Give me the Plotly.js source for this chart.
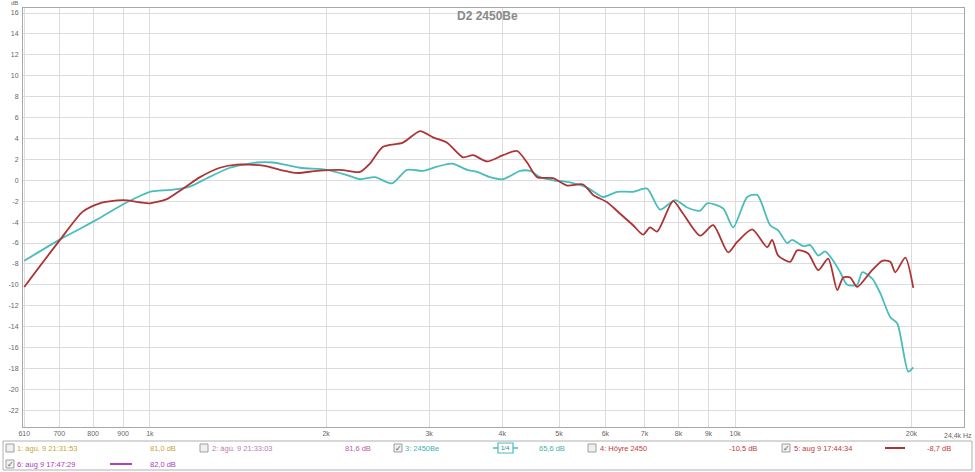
<!DOCTYPE html>
<html><head><meta charset="utf-8">
<script src="https://cdn.plot.ly/plotly-3.0.1.min.js"></script>
<style>html,body{margin:0;padding:0;background:#fff}#chart{width:975px;height:472px}</style>
</head><body><div id="chart"></div>
<script>
// ---- data ----
const freqTeal = [610,700,768,821,900,961,1000,1095,1170,1252,1370,1523,1623,1805,2007,2171,2286,2424,2592,2750,2929,3094,3283,3483,3622,3813,4012,4291,4463,4642,4886,5223,5585,5948,6284,6692,7071,7442,7896,8277,8713,8956,9539,9922,10484,10904,11476,11843,12270,12513,13067,13432,13864,14250,14706,15118,15539,16159,16482,17147,17697,18408,18922,19758,20150];
const dbTeal   = [-7.7,-5.7,-4.5,-3.6,-2.3,-1.5,-1.1,-0.9,-0.6,0.2,1.2,1.7,1.7,1.2,1.0,0.5,0.1,0.3,-0.3,1.0,0.9,1.3,1.6,1.0,0.8,0.3,0.1,0.9,0.9,0.3,0.0,-0.2,-0.7,-1.6,-1.1,-1.1,-0.8,-2.8,-1.9,-2.6,-2.9,-2.2,-2.7,-4.5,-1.6,-1.4,-4.3,-4.8,-6.0,-5.7,-6.3,-6.2,-7.2,-6.8,-7.7,-8.8,-10.0,-10.0,-8.8,-9.4,-10.8,-13.1,-13.7,-18.3,-17.9];
const freqRed  = [610,700,768,821,899,961,1000,1069,1139,1218,1317,1408,1561,1668,1784,1930,2112,2286,2377,2502,2706,2894,3046,3219,3428,3566,3768,4012,4241,4410,4588,4886,5162,5497,5718,6042,6359,6692,6960,7154,7356,7834,8148,8713,9170,9728,10079,10692,11342,11566,11843,12415,12763,13327,13864,14420,14940,15297,15723,16159,17013,17836,18408,18773,19526,20150];
const dbRed    = [-10.2,-5.8,-3.0,-2.2,-1.9,-2.1,-2.2,-1.8,-0.8,0.3,1.2,1.5,1.4,1.0,0.7,0.9,1.0,0.8,1.6,3.2,3.6,4.7,4.1,3.6,2.2,2.4,1.8,2.4,2.8,1.7,0.3,0.2,-0.5,-0.4,-1.4,-2.1,-3.2,-4.3,-5.2,-4.5,-4.9,-2.0,-3.2,-5.3,-4.3,-6.9,-5.9,-4.7,-6.4,-5.7,-7.2,-7.8,-6.7,-7.0,-8.6,-7.5,-10.5,-9.3,-9.3,-10.2,-8.8,-7.7,-7.8,-8.8,-7.4,-10.3];
const xTickVals = [610,700,800,900,1000,2000,3000,4000,5000,6000,7000,8000,9000,10000,20000];
const xTickText = ['610','700','800','900','1k','2k','3k','4k','5k','6k','7k','8k','9k','10k','20k'];
const yTickVals = [-22,-20,-18,-16,-14,-12,-10,-8,-6,-4,-2,0,2,4,6,8,10,12,14,16];
const yTickText = yTickVals.map(v => String(v));
const legNames  = ['1: ágú. 9 21:31:53','2: ágú. 9 21:33:03','3: 2450Be','4: Höyre 2450','5: aug 9 17:44:34','6: aug 9 17:47:29'];
const legValues = ['81,0 dB','81,6 dB','65,6 dB','-10,5 dB','-8,7 dB','82,0 dB'];
const legChecked = [false,false,true,false,true,true];
const chartTitle = 'D2 2450Be';

// ---- layout helpers (pixel -> paper) ----
const L=23, R=964, T=8, B=427;
const X = px => (px-L)/(R-L);
const Y = py => (B-py)/(B-T);

const teal = '#4bbcbc', red = '#ad3434';
const traces = [
  {x:freqTeal, y:dbTeal, type:'scatter', mode:'lines', line:{color:teal, width:1.8, shape:'spline', smoothing:0.7}, hoverinfo:'skip'},
  {x:freqRed, y:dbRed, type:'scatter', mode:'lines', line:{color:red, width:1.8, shape:'spline', smoothing:0.7}, hoverinfo:'skip'}
];

const txtCol = ['#c9a43a','#b47cb4','#3fb0b0','#c23a3a','#c23a3a','#a640b8'];
const valCol = ['#c9a43a','#c05aa8','#3fb0b0','#c23a3a','#c23a3a','#a640b8'];
// legend entry positions: [checkboxX, textX, valueX, rowY]
const legPos = [[6,15,148,448],[200,210,343,448],[394,403,537,448],[588,598,727,448],[782,792,925,448],[6,15,148,464]];

const ann = (o) => Object.assign({xref:'paper', yref:'paper', showarrow:false, yanchor:'middle', xanchor:'left'}, o);
const shapes = [
  {type:'rect', xref:'paper', yref:'paper', x0:X(3), x1:X(972), y0:Y(441), y1:Y(470), line:{color:'#b0b0b0', width:1}, fillcolor:'rgba(0,0,0,0)'}
];
const annotations = [
  ann({text:'<b>'+chartTitle+'</b>', x:X(487), y:Y(16), xanchor:'center', font:{family:'Liberation Sans, Arial', size:12, color:'#8a8a8a'}}),
  ann({text:'dB', x:X(9), y:Y(3), font:{family:'Liberation Sans, Arial', size:6, color:'#666'}}),
  ann({text:'24,4k Hz', x:X(974), y:Y(435), xanchor:'right', font:{family:'Liberation Sans, Arial', size:7, color:'#666'}})
];
legNames.forEach((n,i) => {
  const [cx,tx,vx,ry] = legPos[i];
  shapes.push({type:'rect', xref:'paper', yref:'paper', x0:X(cx), x1:X(cx+8), y0:Y(ry-4), y1:Y(ry+4), line:{color:'#a0a0a0', width:1}, fillcolor:'#f0f0f0'});
  if (legChecked[i]) annotations.push(ann({text:'✓', x:X(cx+4), y:Y(ry), xanchor:'center', font:{family:'DejaVu Sans', size:8, color:'#555'}}));
  annotations.push(ann({text:n, x:X(tx), y:Y(ry), font:{family:'Liberation Sans, Arial', size:7.5, color:txtCol[i]}}));
  annotations.push(ann({text:legValues[i], x:X(vx), y:Y(ry), font:{family:'Liberation Sans, Arial', size:7.5, color:valCol[i]}}));
});
// line samples in legend
shapes.push({type:'line', xref:'paper', yref:'paper', x0:X(493), x1:X(518), y0:Y(448), y1:Y(448), line:{color:teal, width:1.5}});
shapes.push({type:'rect', xref:'paper', yref:'paper', x0:X(498), x1:X(513), y0:Y(443), y1:Y(453), line:{color:teal, width:1.2}, fillcolor:'#ffffff'});
annotations.push(ann({text:'1/4', x:X(505.5), y:Y(448), xanchor:'center', font:{family:'Liberation Sans, Arial', size:6, color:'#2a7f7f'}}));
shapes.push({type:'line', xref:'paper', yref:'paper', x0:X(885), x1:X(905), y0:Y(448), y1:Y(448), line:{color:red, width:2}});
shapes.push({type:'line', xref:'paper', yref:'paper', x0:X(110), x1:X(132), y0:Y(464), y1:Y(464), line:{color:'#b040c0', width:2}});

const layout = {
  width:975, height:472,
  margin:{l:L, r:975-R, t:T, b:472-B},
  paper_bgcolor:'#ffffff', plot_bgcolor:'#ffffff',
  showlegend:false,
  font:{family:'Liberation Sans, Arial', size:7, color:'#666'},
  xaxis:{type:'log', range:[Math.log10(607), Math.log10(24600)], tickvals:xTickVals, ticktext:xTickText,
         showgrid:true, gridcolor:'#dcdcdc', gridwidth:1, showline:true, linecolor:'#a8a8a8', linewidth:1, mirror:true,
         ticks:'', zeroline:false, tickfont:{size:7, color:'#666'}},
  yaxis:{range:[-23.6, 16.48], tickvals:yTickVals, ticktext:yTickText,
         showgrid:true, gridcolor:'#dcdcdc', gridwidth:1, showline:true, linecolor:'#a8a8a8', linewidth:1, mirror:true,
         ticks:'', zeroline:false, tickfont:{size:7, color:'#666'}, ticklabelstandoff:2},
  shapes:shapes, annotations:annotations
};
Plotly.newPlot('chart', traces, layout, {staticPlot:true, displayModeBar:false});
</script></body></html>
